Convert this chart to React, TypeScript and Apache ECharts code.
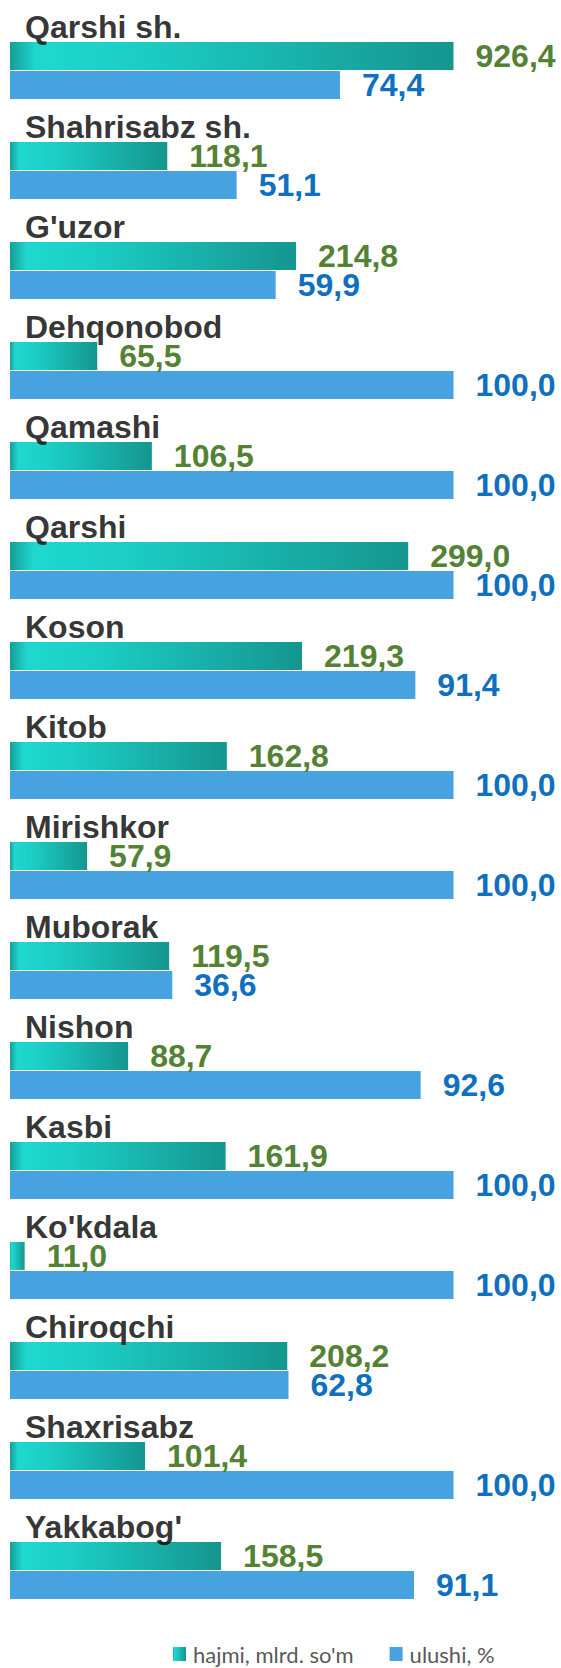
import React, { useEffect, useRef } from "react";
import * as echarts from "echarts";

const categories = [
  "Qarshi sh.", "Shahrisabz sh.", "G'uzor", "Dehqonobod", "Qamashi", "Qarshi",
  "Koson", "Kitob", "Mirishkor", "Muborak", "Nishon", "Kasbi", "Ko'kdala",
  "Chiroqchi", "Shaxrisabz", "Yakkabog'",
];
const hajmi = [926.4, 118.1, 214.8, 65.5, 106.5, 299.0, 219.3, 162.8, 57.9, 119.5, 88.7, 161.9, 11.0, 208.2, 101.4, 158.5];
const ulushi = [74.4, 51.1, 59.9, 100.0, 100.0, 100.0, 91.4, 100.0, 100.0, 36.6, 92.6, 100.0, 100.0, 62.8, 100.0, 91.1];
const seriesNames = ["hajmi, mlrd. so'm", "ulushi, %"];

const fmt = (v: number) => v.toFixed(1).replace(".", ",");

export default function App() {
  const ref = useRef<HTMLDivElement>(null);
  useEffect(() => {
    if (!ref.current) return;
    const chart = echarts.init(ref.current, undefined, { renderer: "svg" });
    const teal = new echarts.graphic.LinearGradient(0, 0, 1, 0, [
      { offset: 0, color: "#169e96" },
      { offset: 0.06, color: "#1ed8d0" },
      { offset: 0.3, color: "#1bcdc5" },
      { offset: 1, color: "#15968f" },
    ]);
    const labelFont = "'Liberation Sans', Arial, sans-serif";
    chart.setOption({
      animation: false,
      backgroundColor: "#ffffff",
      grid: { left: 10, right: 107.5, top: 20.5, height: 1600, containLabel: false },
      xAxis: [
        { type: "value", min: 0, max: 333, show: false },
        { type: "value", min: 0, max: 100, show: false },
      ],
      yAxis: {
        type: "category",
        inverse: true,
        data: categories,
        axisLine: { show: false },
        axisTick: { show: false },
        splitLine: { show: false },
        axisLabel: { show: false },
      },
      legend: {
        data: seriesNames,
        left: 173,
        top: 1643,
        padding: 0,
        icon: "rect",
        itemWidth: 13,
        itemHeight: 14,
        itemGap: 36,
        textStyle: {
          fontFamily: "Lato, sans-serif",
          fontSize: 22,
          lineHeight: 22,
          color: "#595959",
          padding: [0, 0, 0, 2],
        },
      },
      series: [
        {
          name: seriesNames[0],
          type: "bar",
          xAxisIndex: 0,
          data: hajmi,
          barWidth: 28,
          barGap: "4%",
          clip: true,
          itemStyle: { color: teal },
          label: {
            show: true,
            position: "right",
            distance: 22,
            formatter: (p: any) => fmt(p.value),
            fontSize: 32,
            fontWeight: "bold",
            color: "#548235",
            fontFamily: labelFont,
          },
        },
        {
          name: seriesNames[1],
          type: "bar",
          xAxisIndex: 1,
          data: ulushi,
          barWidth: 28,
          barGap: "4%",
          itemStyle: { color: "#47a3e0" },
          label: {
            show: true,
            position: "right",
            distance: 22,
            formatter: (p: any) => fmt(p.value),
            fontSize: 32,
            fontWeight: "bold",
            color: "#0f70c0",
            fontFamily: labelFont,
          },
        },
        {
          name: "names",
          type: "scatter",
          xAxisIndex: 0,
          data: categories.map((c) => [0, c]),
          symbolSize: 0,
          silent: true,
          z: 5,
          label: {
            show: true,
            position: "right",
            distance: 0,
            offset: [15, -43.5],
            formatter: (p: any) => categories[p.dataIndex],
            fontSize: 32,
            fontWeight: "bold",
            color: "#000000",
            fontFamily: labelFont,
            align: "left",
            verticalAlign: "middle",
          },
        },
      ],
    });
    return () => chart.dispose();
  }, []);
  return (
    <div
      ref={ref}
      style={{ position: "fixed", left: 0, top: 0, width: 561, height: 1668, background: "#fff" }}
    />
  );
}
